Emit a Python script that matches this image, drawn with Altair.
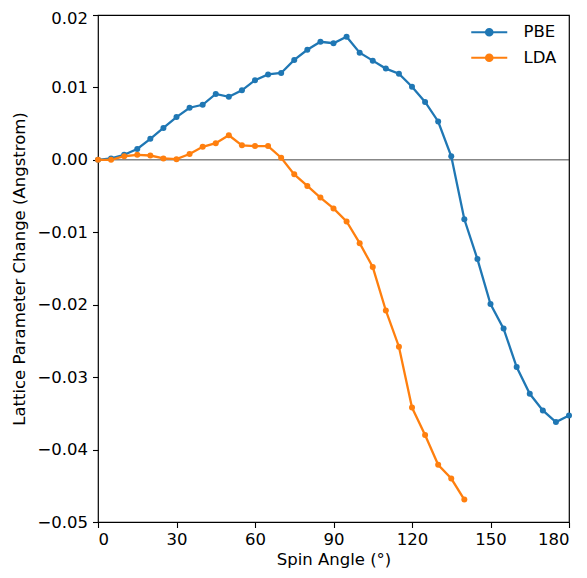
import altair as alt
import pandas as pd

angles = list(range(0, 185, 5))
pbe = [0.0000, 0.0002, 0.0007, 0.0015, 0.0029, 0.0044, 0.0059, 0.0072, 0.0076, 0.0091,
       0.0087, 0.0096, 0.0110, 0.0118, 0.0120, 0.0138, 0.0152, 0.0163, 0.0161, 0.0170,
       0.0148, 0.0137, 0.0126, 0.0119, 0.0101, 0.0080, 0.0053, 0.0005, -0.0082, -0.0137,
       -0.0199, -0.0233, -0.0286, -0.0323, -0.0346, -0.0362, -0.0353]
lda_angles = list(range(0, 145, 5))
lda = [0.0000, 0.0000, 0.0005, 0.0007, 0.0006, 0.0002, 0.0001, 0.0008, 0.0018, 0.0023,
       0.0034, 0.0020, 0.0019, 0.0019, 0.0003, -0.0020, -0.0036, -0.0052, -0.0067, -0.0085,
       -0.0115, -0.0148, -0.0208, -0.0258, -0.0342, -0.0380, -0.0421, -0.0440, -0.0469]

series_names = ["PBE", "LDA"]
series_colors = ["#1f77b4", "#ff7f0e"]
x_ticks = [0, 30, 60, 90, 120, 150, 180]
y_ticks = [-0.05, -0.04, -0.03, -0.02, -0.01, 0.0, 0.01, 0.02]

df = pd.concat([
    pd.DataFrame({"angle": angles, "value": pbe, "method": "PBE"}),
    pd.DataFrame({"angle": lda_angles, "value": lda, "method": "LDA"}),
])

FONT = "DejaVu Sans"
FS = 16.5

legend_symbol = ("M -3.6 0 L 3.6 0 "
                 "M 0.65 0 A 0.65 0.65 0 1 1 -0.65 0 A 0.65 0.65 0 1 1 0.65 0")

color = alt.Color(
    "method:N",
    scale=alt.Scale(domain=series_names, range=series_colors),
    legend=alt.Legend(
        title=None, orient="none", legendX=383, legendY=9,
        symbolType=legend_symbol, symbolSize=100, symbolStrokeWidth=2.2,
        symbolFillColor=None, rowPadding=8.5, labelOffset=26,
        labelFont=FONT, labelFontSize=FS, labelColor="black",
        fillColor="white",
    ),
)

x = alt.X("angle:Q", title="Spin Angle (°)",
          scale=alt.Scale(domain=[0, 180], nice=False, zero=False),
          axis=alt.Axis(values=x_ticks, format="d"))
y = alt.Y("value:Q", title="Lattice Parameter Change (Angstrom)",
          scale=alt.Scale(domain=[-0.05, 0.02], nice=False),
          axis=alt.Axis(values=y_ticks, format=".2f",
                        labelOffset={"condition": {"test": "datum.value > 0.015", "value": 3},
                                     "value": 0}))

zero = alt.Chart(pd.DataFrame({"z": [0.0]})).mark_rule(
    color="#333333", strokeWidth=0.9
).encode(y="z:Q")

lines = alt.Chart(df).mark_line(strokeWidth=2.3).encode(
    x=x, y=y, color=color, order="angle:Q")
points = alt.Chart(df).mark_point(filled=True, size=36, opacity=1).encode(
    x=x, y=y, color=color)

chart = alt.layer(zero, lines, points).properties(
    width=471, height=507,
    autosize=alt.AutoSizeParams(type="none"),
    padding={"left": 90, "top": 7, "right": 10, "bottom": 48},
).configure_view(
    stroke="black", strokeWidth=1.2
).configure_axis(
    grid=False, domain=False,
    tickColor="black", tickSize=5.5, tickWidth=1.1,
    labelFont=FONT, labelFontSize=FS, labelColor="black", labelPadding=5,
    titleFont=FONT, titleFontSize=FS, titleFontWeight="normal", titleColor="black",
).configure_axisX(titlePadding=3, labelPadding=4).configure_axisY(titlePadding=9)

chart.save("out.html", embed_options={"renderer": "svg", "actions": False})
